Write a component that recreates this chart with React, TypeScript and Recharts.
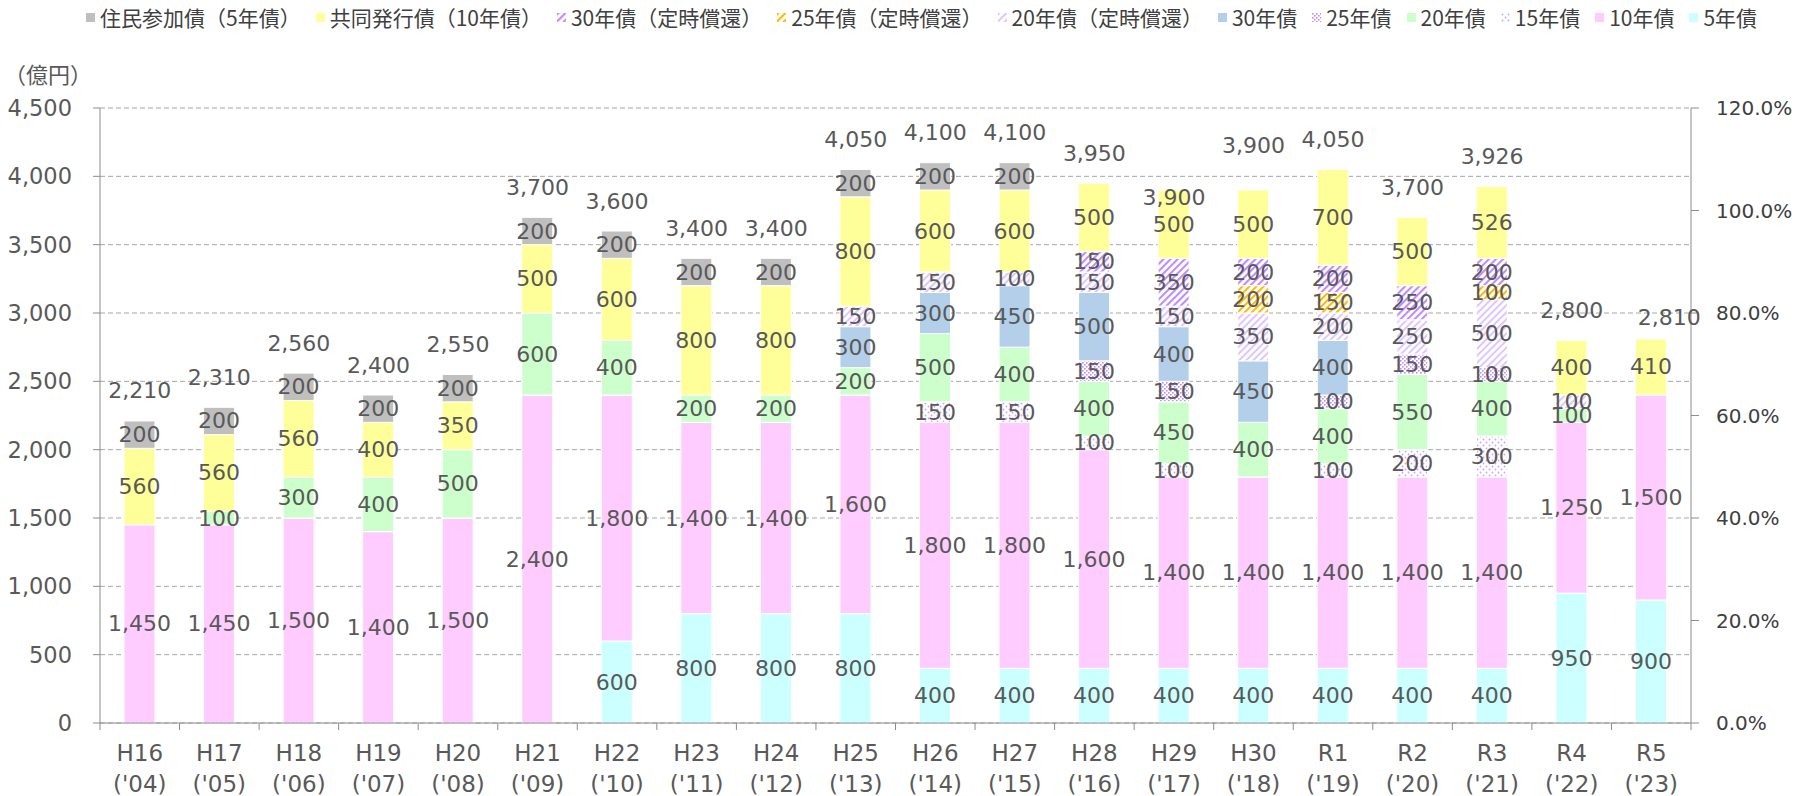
import { Bar, BarChart, CartesianGrid, LabelList, Line, XAxis, YAxis } from "recharts";

// 年度
const categories = ["H16", "H17", "H18", "H19", "H20", "H21", "H22", "H23", "H24", "H25", "H26", "H27", "H28", "H29", "H30", "R1", "R2", "R3", "R4", "R5"];
const fiscalYears = ["'04", "'05", "'06", "'07", "'08", "'09", "'10", "'11", "'12", "'13", "'14", "'15", "'16", "'17", "'18", "'19", "'20", "'21", "'22", "'23"];

// 発行額（億円）
const bond5 = [0, 0, 0, 0, 0, 0, 600, 800, 800, 800, 400, 400, 400, 400, 400, 400, 400, 400, 950, 900];
const bond10 = [1450, 1450, 1500, 1400, 1500, 2400, 1800, 1400, 1400, 1600, 1800, 1800, 1600, 1400, 1400, 1400, 1400, 1400, 1250, 1500];
const bond15 = [0, 0, 0, 0, 0, 0, 0, 0, 0, 0, 150, 150, 100, 100, 0, 100, 200, 300, 0, 0];
const bond20 = [0, 100, 300, 400, 500, 600, 400, 200, 200, 200, 500, 400, 400, 450, 400, 400, 550, 400, 100, 0];
const bond25 = [0, 0, 0, 0, 0, 0, 0, 0, 0, 0, 0, 0, 150, 150, 0, 100, 150, 100, 0, 0];
const bond30 = [0, 0, 0, 0, 0, 0, 0, 0, 0, 300, 300, 450, 500, 400, 450, 400, 0, 0, 0, 0];
const sched20 = [0, 0, 0, 0, 0, 0, 0, 0, 0, 150, 150, 100, 150, 150, 350, 200, 250, 500, 100, 0];
const sched25 = [0, 0, 0, 0, 0, 0, 0, 0, 0, 0, 0, 0, 0, 0, 200, 150, 0, 100, 0, 0];
const sched30 = [0, 0, 0, 0, 0, 0, 0, 0, 0, 0, 0, 0, 150, 350, 200, 200, 250, 200, 0, 0];
const joint = [560, 560, 560, 400, 350, 500, 600, 800, 800, 800, 600, 600, 500, 500, 500, 700, 500, 526, 400, 410];
const resident = [200, 200, 200, 200, 200, 200, 200, 200, 200, 200, 200, 200, 0, 0, 0, 0, 0, 0, 0, 0];

const leftMax = 4500;
const leftTicks = [0, 500, 1000, 1500, 2000, 2500, 3000, 3500, 4000, 4500];
const rightMax = 1.2;
const rightTicks = [0, 0.2, 0.4, 0.6, 0.8, 1.0, 1.2];

// stacking order, bottom to top
const SERIES = [
  { key: "bond5", label: "5年債", values: bond5, fill: "#CCFFFF" },
  { key: "bond10", label: "10年債", values: bond10, fill: "#FFCCFF" },
  { key: "bond15", label: "15年債", values: bond15, fill: "url(#dot15)" },
  { key: "bond20", label: "20年債", values: bond20, fill: "#CCFFCC" },
  { key: "bond25", label: "25年債", values: bond25, fill: "url(#dot25)" },
  { key: "bond30", label: "30年債", values: bond30, fill: "#B4CFEA" },
  { key: "sched20", label: "20年債（定時償還）", values: sched20, fill: "url(#hatch20)" },
  { key: "sched25", label: "25年債（定時償還）", values: sched25, fill: "url(#hatch25)" },
  { key: "sched30", label: "30年債（定時償還）", values: sched30, fill: "url(#hatch30)" },
  { key: "joint", label: "共同発行債（10年債）", values: joint, fill: "#FFFF99" },
  { key: "resident", label: "住民参加債（5年債）", values: resident, fill: "#BFBFBF" },
];

const data = categories.map((name, i) => {
  const row: Record<string, string | number> = { name, year: fiscalYears[i] };
  let total = 0;
  SERIES.forEach((s) => {
    row[s.key] = s.values[i];
    total += s.values[i];
  });
  row.total = total;
  return row;
});

// layout
const W = 1806;
const H = 796;
const PLOT_LEFT = 100;
const PLOT_RIGHT = 1691;
const PLOT_TOP = 108;
const PLOT_BOTTOM = 723;
const BAND = (PLOT_RIGHT - PLOT_LEFT) / categories.length;
const TEXT = "#595959";
const AXIS = "#8C8C8C";
const NUM_FONT = "'DejaVu Sans', Verdana, sans-serif";
const JP_FONT = "'Noto Sans CJK JP', 'DejaVu Sans', sans-serif";

// hand-placed total labels in the original
const totalNudge: Record<string, { dx: number; dy: number }> = {
  H29: { dx: 0, dy: 37 },
  H30: { dx: 0, dy: -15 },
  R5: { dx: 18, dy: 9 },
};

const fmt = (v: number) => v.toLocaleString("en-US");

const SegmentLabel = (props: any) => {
  const { x, y, width, height, value } = props;
  if (!value) return null;
  return (
    <text
      x={Number(x) + Number(width) / 2}
      y={Number(y) + Number(height) / 2}
      textAnchor="middle"
      dominantBaseline="central"
      fill={TEXT}
      fontSize={22}
      fontFamily={NUM_FONT}
    >
      {fmt(value)}
    </text>
  );
};

const TotalLabel = (props: any) => {
  const { x, y, value, index } = props;
  const n = totalNudge[categories[index]] ?? { dx: 0, dy: 0 };
  return (
    <text
      x={Number(x) + n.dx}
      y={Number(y) - 30 + n.dy}
      textAnchor="middle"
      dominantBaseline="central"
      fill={TEXT}
      fontSize={22}
      fontFamily={NUM_FONT}
    >
      {fmt(value)}
    </text>
  );
};

const XTick = (props: any) => {
  const { x, payload, index } = props;
  const cx = Number(x);
  const last = index === categories.length - 1;
  return (
    <g>
      <line x1={cx - BAND / 2} y1={PLOT_BOTTOM} x2={cx - BAND / 2} y2={PLOT_BOTTOM + 7} stroke={AXIS} />
      {last && <line x1={cx + BAND / 2} y1={PLOT_BOTTOM} x2={cx + BAND / 2} y2={PLOT_BOTTOM + 7} stroke={AXIS} />}
      <text x={cx} y={PLOT_BOTTOM + 30} textAnchor="middle" dominantBaseline="central" fill={TEXT} fontSize={23} fontFamily={NUM_FONT}>
        {payload.value}
      </text>
      <text x={cx} y={PLOT_BOTTOM + 61} textAnchor="middle" dominantBaseline="central" fill={TEXT} fontSize={23} fontFamily={NUM_FONT}>
        ({fiscalYears[categories.indexOf(payload.value)]})
      </text>
    </g>
  );
};

function Legend() {
  const items = [...SERIES].reverse();
  return (
    <div style={{ position: "absolute", left: 86, top: 3, height: 28, display: "flex", alignItems: "center", fontFamily: JP_FONT, fontSize: 21, color: "#404040", whiteSpace: "nowrap" }}>
      {items.map((s, i) => (
        <div key={s.key} style={{ display: "flex", alignItems: "center", marginRight: i === items.length - 1 ? 0 : 15 }}>
          <svg width={9} height={9} style={{ marginRight: 5 }}>
            <rect width={9} height={9} fill={s.fill} />
          </svg>
          <span>{s.label}</span>
        </div>
      ))}
    </div>
  );
}

export default function App() {
  return (
    <div style={{ position: "absolute", left: 0, top: 0, width: W, height: H, background: "#fff" }}>
      <Legend />
      <div style={{ position: "absolute", left: 4, top: 58, fontFamily: JP_FONT, fontSize: 22, color: TEXT, lineHeight: "30px" }}>（億円）</div>
      <BarChart
        width={W}
        height={H}
        data={data}
        margin={{ top: PLOT_TOP, left: PLOT_LEFT - 90, right: W - PLOT_RIGHT - 100, bottom: H - PLOT_BOTTOM - 70 }}
        barSize={31}
      >
        <defs>
          <pattern id="dot15" patternUnits="userSpaceOnUse" width="6" height="6">
            <rect width="6" height="6" fill="#fff" />
            <circle cx="1.5" cy="1.5" r="0.9" fill="#C9A0FF" />
            <circle cx="4.5" cy="4.5" r="0.9" fill="#C9A0FF" />
          </pattern>
          <pattern id="dot25" patternUnits="userSpaceOnUse" width="4" height="4">
            <rect width="4" height="4" fill="#fff" />
            <rect x="0" y="0" width="1.6" height="1.6" fill="#C08CFF" />
            <rect x="2" y="2" width="1.6" height="1.6" fill="#C08CFF" />
          </pattern>
          <pattern id="hatch20" patternUnits="userSpaceOnUse" width="5" height="5" patternTransform="rotate(45)">
            <rect width="5" height="5" fill="#fff" />
            <line x1="1" y1="0" x2="1" y2="5" stroke="#CDA8FF" strokeWidth="1.3" />
          </pattern>
          <pattern id="hatch25" patternUnits="userSpaceOnUse" width="5" height="5" patternTransform="rotate(45)">
            <rect width="5" height="5" fill="#fff" />
            <line x1="1" y1="0" x2="1" y2="5" stroke="#FFB900" strokeWidth="2.2" />
          </pattern>
          <pattern id="hatch30" patternUnits="userSpaceOnUse" width="5" height="5" patternTransform="rotate(45)">
            <rect width="5" height="5" fill="#fff" />
            <line x1="1" y1="0" x2="1" y2="5" stroke="#BE8CFF" strokeWidth="2.2" />
          </pattern>
        </defs>
        <CartesianGrid vertical={false} yAxisId="left" stroke="#A6A6A6" strokeDasharray="5 3" />
        <XAxis
          dataKey="name"
          height={70}
          tickLine={false}
          axisLine={{ stroke: AXIS }}
          tick={XTick}
          interval={0}
        />
        <YAxis
          yAxisId="left"
          width={90}
          domain={[0, leftMax]}
          ticks={leftTicks}
          tickSize={7}
          tickMargin={21}
          tickLine={{ stroke: AXIS }}
          axisLine={{ stroke: AXIS }}
          tickFormatter={fmt}
          tick={{ fill: TEXT, fontSize: 22.5, fontFamily: NUM_FONT }}
        />
        <YAxis
          yAxisId="right"
          orientation="right"
          width={100}
          domain={[0, rightMax]}
          ticks={rightTicks}
          tickSize={8}
          tickMargin={17}
          tickLine={{ stroke: AXIS }}
          axisLine={{ stroke: AXIS }}
          tickFormatter={(v: number) => `${(v * 100).toFixed(1)}%`}
          tick={{ fill: "#404040", fontSize: 20, fontFamily: NUM_FONT }}
        />
        {SERIES.map((s) => (
          <Bar key={s.key} yAxisId="left" dataKey={s.key} stackId="issue" fill={s.fill} stroke="#ffffff" strokeWidth={1} isAnimationActive={false}>
            <LabelList dataKey={s.key} content={SegmentLabel} />
          </Bar>
        ))}
        {/* invisible carrier for the total labels, on the right axis scaled to match the left one */}
        <Line
          yAxisId="right"
          dataKey={(row: any) => (row.total / leftMax) * rightMax}
          stroke="none"
          dot={false}
          activeDot={false}
          legendType="none"
          isAnimationActive={false}
        >
          <LabelList dataKey="total" content={TotalLabel} />
        </Line>
      </BarChart>
    </div>
  );
}
